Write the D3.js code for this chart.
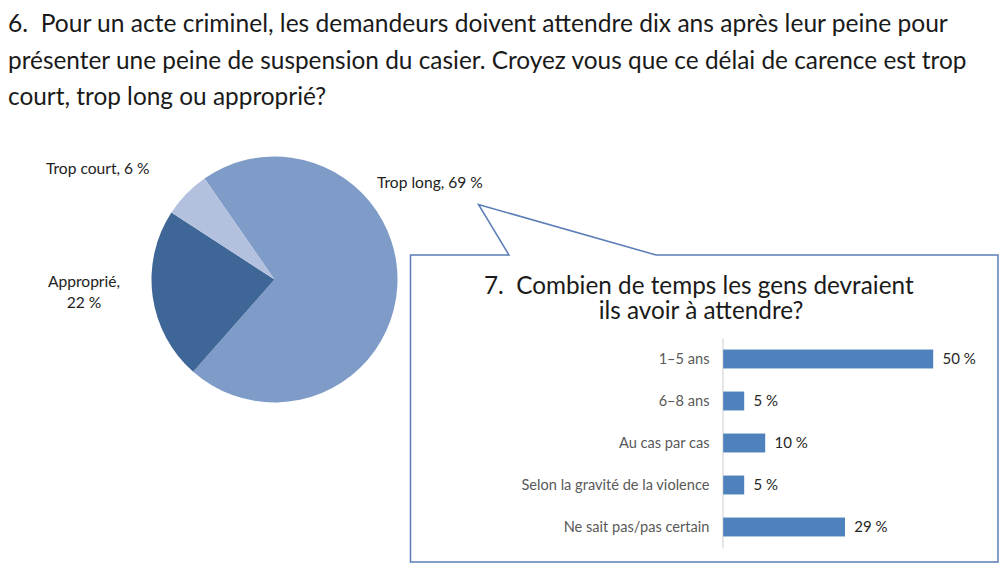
<!DOCTYPE html>
<html>
<head>
<meta charset="utf-8">
<script src="https://cdn.jsdelivr.net/npm/d3@7"></script>
<style>
  body { margin: 0; background: #fff; }
  svg { display: block; font-family: Lato, "Open Sans", sans-serif; }
  text { white-space: pre; }
</style>
</head>
<body>
<script>
// question 6 : pie
const pieLabels = ["Trop long", "Approprié", "Trop court"];
const pieValues = [69, 22, 6];
const pieColors = ["#7f9bc8", "#3e6797", "#b3c1df"];

// question 7 : bars
const barCategories = ["1–5 ans", "6–8 ans", "Au cas par cas", "Selon la gravité de la violence", "Ne sait pas/pas certain"];
const barValues = [50, 5, 10, 5, 29];

const titleLines = [
  "6.  Pour un acte criminel, les demandeurs doivent attendre dix ans après leur peine pour",
  "présenter une peine de suspension du casier. Croyez vous que ce délai de carence est trop",
  "court, trop long ou approprié?"
];
const subTitleLines = ["7.  Combien de temps les gens devraient", "ils avoir à attendre?"];

const W = 1000, H = 574;
const svg = d3.select("body").append("svg")
  .attr("width", W)
  .attr("height", H);

// shrink/grow a text so it spans a given width
function fitWidth(sel, target) {
  const w = sel.node().getComputedTextLength();
  const fs = parseFloat(sel.attr("font-size"));
  sel.attr("font-size", fs * target / w);
}

// Main title
const titleTargets = [940, 959];
const titleY = [32, 69, 105];
const titleTexts = titleLines.map((t, i) => svg.append("text")
  .attr("x", 8)
  .attr("y", titleY[i])
  .attr("font-size", 22)
  .attr("fill", "#1a1a1a")
  .text(t));
fitWidth(titleTexts[0], titleTargets[0]);
fitWidth(titleTexts[1], titleTargets[1]);
titleTexts[2].attr("font-size", titleTexts[1].attr("font-size"));

// Pie
const cx = 274.5, cy = 279.5, r = 123;
const startA = -34.7 * Math.PI / 180;
const pie = d3.pie().sort(null)
  .startAngle(startA)
  .endAngle(startA + 2 * Math.PI)
  .value(d => d.value);
const arc = d3.arc().innerRadius(0).outerRadius(r);
const pieData = pieValues.map((v, i) => ({ label: pieLabels[i], value: v, color: pieColors[i] }));

const pieG = svg.append("g").attr("transform", `translate(${cx},${cy})`);
pieG.selectAll("path")
  .data(pie(pieData))
  .join("path")
  .attr("d", arc)
  .attr("fill", d => d.data.color);

// pie labels
const pieLabelFont = 15.6;
svg.append("text").attr("x", 46).attr("y", 174)
  .attr("font-size", pieLabelFont).attr("fill", "#222")
  .text(`${pieLabels[2]}, ${pieValues[2]} %`);
svg.append("text").attr("x", 377).attr("y", 188)
  .attr("font-size", pieLabelFont).attr("fill", "#222")
  .text(`${pieLabels[0]}, ${pieValues[0]} %`);
svg.append("text").attr("x", 84).attr("y", 287)
  .attr("font-size", pieLabelFont).attr("fill", "#222")
  .attr("text-anchor", "middle")
  .text(`${pieLabels[1]},`);
svg.append("text").attr("x", 84).attr("y", 308)
  .attr("font-size", pieLabelFont).attr("fill", "#222")
  .attr("text-anchor", "middle")
  .text(`${pieValues[1]} %`);

// Callout box
const box = { x0: 410.5, y0: 255, x1: 998, y1: 562 };
svg.append("path")
  .attr("d", `M${box.x0},${box.y0} L509,${box.y0} L478.5,204.5 L656,${box.y0} L${box.x1},${box.y0} L${box.x1},${box.y1} L${box.x0},${box.y1} Z`)
  .attr("fill", "#fff")
  .attr("stroke", "#5b7db7")
  .attr("stroke-width", 1.5);

// Sub title
const sub1 = svg.append("text")
  .attr("x", 484).attr("y", 294)
  .attr("font-size", 21)
  .attr("fill", "#1a1a1a")
  .text(subTitleLines[0]);
fitWidth(sub1, 430);
svg.append("text")
  .attr("x", 701).attr("y", 318.5)
  .attr("text-anchor", "middle")
  .attr("font-size", sub1.attr("font-size"))
  .attr("fill", "#1a1a1a")
  .text(subTitleLines[1]);

// Bar chart
const x = d3.scaleLinear()
  .domain([0, 50])
  .range([722.5, 932.5]);
const y = d3.scaleBand()
  .domain(barCategories)
  .range([338, 548])
  .paddingInner(0.55)
  .paddingOuter(0.275);

const yAxis = svg.append("g")
  .attr("transform", `translate(${x(0)},0)`)
  .call(d3.axisLeft(y).tickSize(0).tickPadding(13));
yAxis.select(".domain").attr("stroke", "#d9d9d9").attr("stroke-width", 1.3);
yAxis.selectAll("text")
  .attr("font-size", 14.6)
  .attr("font-family", "Lato, 'Open Sans', sans-serif")
  .attr("fill", "#595959");

svg.append("g").selectAll("rect")
  .data(barValues)
  .join("rect")
  .attr("x", x(0) + 0.7)
  .attr("y", (d, i) => y(barCategories[i]))
  .attr("width", d => x(d) - x(0))
  .attr("height", y.bandwidth())
  .attr("fill", "#4f81bd");

svg.append("g").selectAll("text")
  .data(barValues)
  .join("text")
  .attr("x", d => x(d) + 10)
  .attr("y", (d, i) => y(barCategories[i]) + y.bandwidth() / 2)
  .attr("dy", "0.35em")
  .attr("font-size", 15)
  .attr("fill", "#262626")
  .text(d => `${d} %`);
</script>
</body>
</html>
